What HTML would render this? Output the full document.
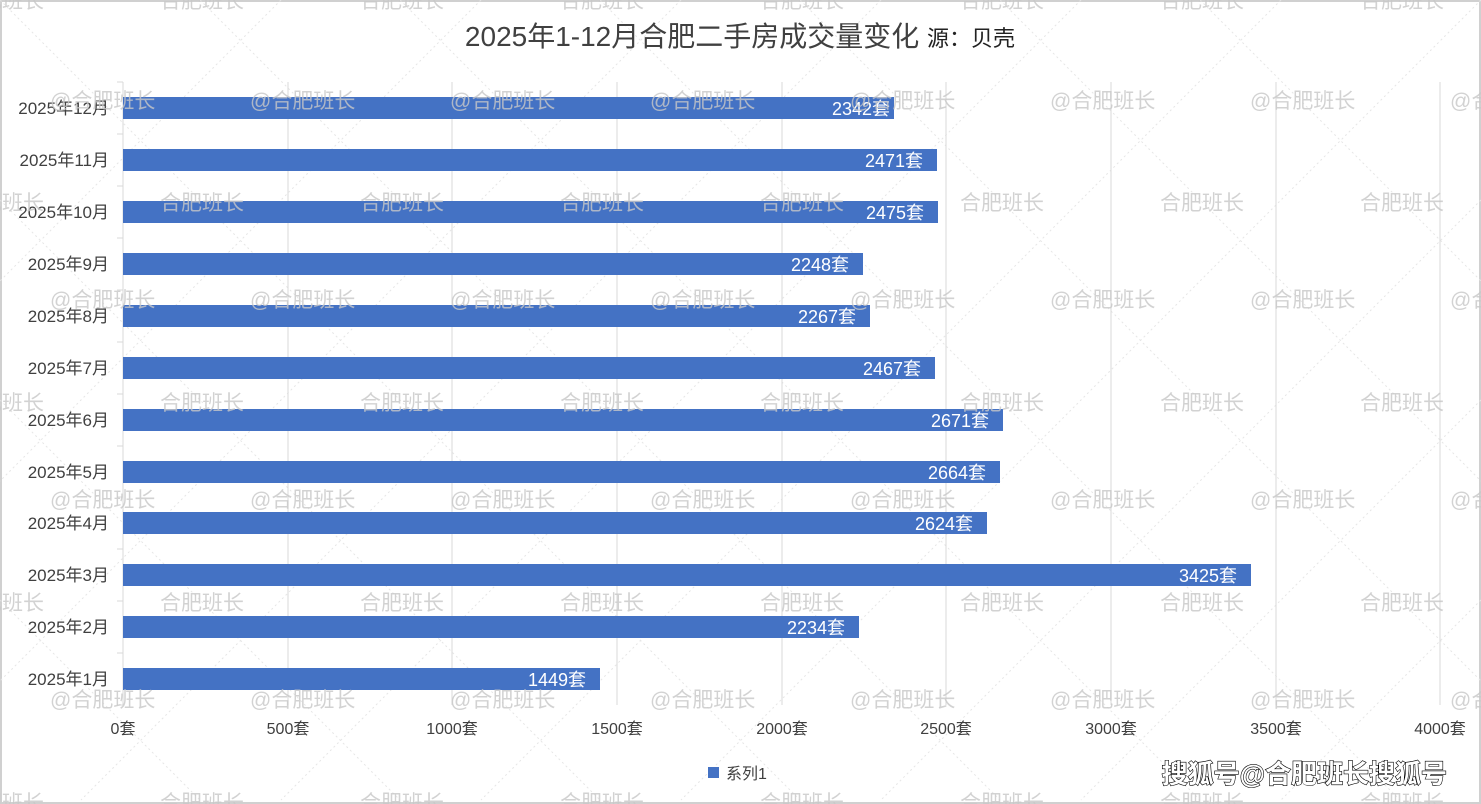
<!DOCTYPE html>
<html><head><meta charset="utf-8"><style>
html,body{margin:0;padding:0;background:#fff}
svg{display:block;font-family:"Liberation Sans","Noto Sans CJK SC",sans-serif}
</style></head><body>
<svg width="1481" height="804" viewBox="0 0 1481 804" xmlns="http://www.w3.org/2000/svg">
<rect x="1" y="1" width="1479" height="802" fill="#fff" stroke="#d0d0d0" stroke-width="2"/>
<g stroke="#e6e6e6" stroke-width="1" stroke-dasharray="2,3" fill="none">
<path d="M0,0 L800,800 M200,0 L1000,800 M400,0 L1200,800 M600,0 L1400,800 M800,0 L1481,681 M1000,0 L1481,481 M1200,0 L1481,281 M0,200 L600,800 M0,400 L400,800 M0,600 L200,800"/>
<path d="M1481,0 L681,800 M1281,0 L481,800 M1081,0 L281,800 M881,0 L81,800 M681,0 L0,681 M481,0 L0,481 M281,0 L0,281 M1481,200 L881,800 M1481,400 L1081,800 M1481,600 L1281,800"/>
</g>
<g stroke="#d9d9d9" stroke-width="1">
<line x1="288" y1="82" x2="288" y2="705"/><line x1="452" y1="82" x2="452" y2="705"/>
<line x1="617" y1="82" x2="617" y2="705"/><line x1="782" y1="82" x2="782" y2="705"/>
<line x1="946" y1="82" x2="946" y2="705"/><line x1="1111" y1="82" x2="1111" y2="705"/>
<line x1="1276" y1="82" x2="1276" y2="705"/><line x1="1440" y1="82" x2="1440" y2="705"/>
<line x1="123" y1="82" x2="123" y2="705"/>
<g>
<line x1="117" y1="82" x2="123" y2="82"/><line x1="117" y1="134" x2="123" y2="134"/><line x1="117" y1="186" x2="123" y2="186"/><line x1="117" y1="238" x2="123" y2="238"/><line x1="117" y1="290" x2="123" y2="290"/><line x1="117" y1="342" x2="123" y2="342"/><line x1="117" y1="394" x2="123" y2="394"/><line x1="117" y1="446" x2="123" y2="446"/><line x1="117" y1="497" x2="123" y2="497"/><line x1="117" y1="549" x2="123" y2="549"/><line x1="117" y1="601" x2="123" y2="601"/><line x1="117" y1="653" x2="123" y2="653"/><line x1="117" y1="705" x2="123" y2="705"/>
</g></g>
<text x="740" y="46" text-anchor="middle" font-size="28" fill="#404040">2025年1-12月合肥二手房成交量变化 <tspan font-size="22" fill="#222">源：贝壳</tspan></text>
<g fill="#4472c4">
<rect x="123" y="97" width="771" height="22"/>
<rect x="123" y="149" width="814" height="22"/>
<rect x="123" y="201" width="815" height="22"/>
<rect x="123" y="253" width="740" height="22"/>
<rect x="123" y="305" width="747" height="22"/>
<rect x="123" y="357" width="812" height="22"/>
<rect x="123" y="409" width="880" height="22"/>
<rect x="123" y="461" width="877" height="22"/>
<rect x="123" y="512" width="864" height="22"/>
<rect x="123" y="564" width="1128" height="22"/>
<rect x="123" y="616" width="736" height="22"/>
<rect x="123" y="668" width="477" height="22"/>
</g>
<g font-size="18" fill="#fff" text-anchor="end">
<text x="890" y="115">2342套</text><text x="923" y="167">2471套</text><text x="924" y="219">2475套</text>
<text x="849" y="271">2248套</text><text x="856" y="323">2267套</text><text x="921" y="375">2467套</text>
<text x="989" y="427">2671套</text><text x="986" y="479">2664套</text><text x="973" y="530">2624套</text>
<text x="1237" y="582">3425套</text><text x="845" y="634">2234套</text><text x="586" y="686">1449套</text>
</g>
<g font-size="17" fill="#404040" text-anchor="end">
<text x="109" y="114">2025年12月</text><text x="109" y="166">2025年11月</text><text x="109" y="218">2025年10月</text>
<text x="109" y="270">2025年9月</text><text x="109" y="322">2025年8月</text><text x="109" y="374">2025年7月</text>
<text x="109" y="426">2025年6月</text><text x="109" y="478">2025年5月</text><text x="109" y="529">2025年4月</text>
<text x="109" y="581">2025年3月</text><text x="109" y="633">2025年2月</text><text x="109" y="685">2025年1月</text>
</g>
<g font-size="16" fill="#404040" text-anchor="middle">
<text x="123" y="734">0套</text><text x="288" y="734">500套</text><text x="452" y="734">1000套</text>
<text x="617" y="734">1500套</text><text x="782" y="734">2000套</text><text x="946" y="734">2500套</text>
<text x="1111" y="734">3000套</text><text x="1276" y="734">3500套</text><text x="1440" y="734">4000套</text>
</g>
<rect x="708" y="767" width="11" height="11" fill="#4472c4"/>
<text x="726" y="779" font-size="16" fill="#404040">系列1</text>
<g font-size="21" fill="#c8c8c8" opacity="0.8">
<text x="50" y="108">@合肥班长</text><text x="250" y="108">@合肥班长</text><text x="450" y="108">@合肥班长</text><text x="650" y="108">@合肥班长</text><text x="850" y="108">@合肥班长</text><text x="1050" y="108">@合肥班长</text><text x="1250" y="108">@合肥班长</text><text x="1450" y="108">@合肥班长</text>
<text x="50" y="307">@合肥班长</text><text x="250" y="307">@合肥班长</text><text x="450" y="307">@合肥班长</text><text x="650" y="307">@合肥班长</text><text x="850" y="307">@合肥班长</text><text x="1050" y="307">@合肥班长</text><text x="1250" y="307">@合肥班长</text><text x="1450" y="307">@合肥班长</text>
<text x="50" y="507">@合肥班长</text><text x="250" y="507">@合肥班长</text><text x="450" y="507">@合肥班长</text><text x="650" y="507">@合肥班长</text><text x="850" y="507">@合肥班长</text><text x="1050" y="507">@合肥班长</text><text x="1250" y="507">@合肥班长</text><text x="1450" y="507">@合肥班长</text>
<text x="50" y="707">@合肥班长</text><text x="250" y="707">@合肥班长</text><text x="450" y="707">@合肥班长</text><text x="650" y="707">@合肥班长</text><text x="850" y="707">@合肥班长</text><text x="1050" y="707">@合肥班长</text><text x="1250" y="707">@合肥班长</text><text x="1450" y="707">@合肥班长</text>
<text x="-40" y="8">合肥班长</text><text x="160" y="8">合肥班长</text><text x="360" y="8">合肥班长</text><text x="560" y="8">合肥班长</text><text x="760" y="8">合肥班长</text><text x="960" y="8">合肥班长</text><text x="1160" y="8">合肥班长</text><text x="1360" y="8">合肥班长</text>
<text x="-40" y="210">合肥班长</text><text x="160" y="210">合肥班长</text><text x="360" y="210">合肥班长</text><text x="560" y="210">合肥班长</text><text x="760" y="210">合肥班长</text><text x="960" y="210">合肥班长</text><text x="1160" y="210">合肥班长</text><text x="1360" y="210">合肥班长</text>
<text x="-40" y="410">合肥班长</text><text x="160" y="410">合肥班长</text><text x="360" y="410">合肥班长</text><text x="560" y="410">合肥班长</text><text x="760" y="410">合肥班长</text><text x="960" y="410">合肥班长</text><text x="1160" y="410">合肥班长</text><text x="1360" y="410">合肥班长</text>
<text x="-40" y="610">合肥班长</text><text x="160" y="610">合肥班长</text><text x="360" y="610">合肥班长</text><text x="560" y="610">合肥班长</text><text x="760" y="610">合肥班长</text><text x="960" y="610">合肥班长</text><text x="1160" y="610">合肥班长</text><text x="1360" y="610">合肥班长</text>
<text x="-40" y="810">合肥班长</text><text x="160" y="810">合肥班长</text><text x="360" y="810">合肥班长</text><text x="560" y="810">合肥班长</text><text x="760" y="810">合肥班长</text><text x="960" y="810">合肥班长</text><text x="1160" y="810">合肥班长</text><text x="1360" y="810">合肥班长</text>
</g>
<text x="1447" y="783" text-anchor="end" font-size="26" font-weight="bold" fill="#fff" stroke="#000" stroke-width="1.2" paint-order="stroke">搜狐号@合肥班长搜狐号</text>
</svg>
</body></html>
